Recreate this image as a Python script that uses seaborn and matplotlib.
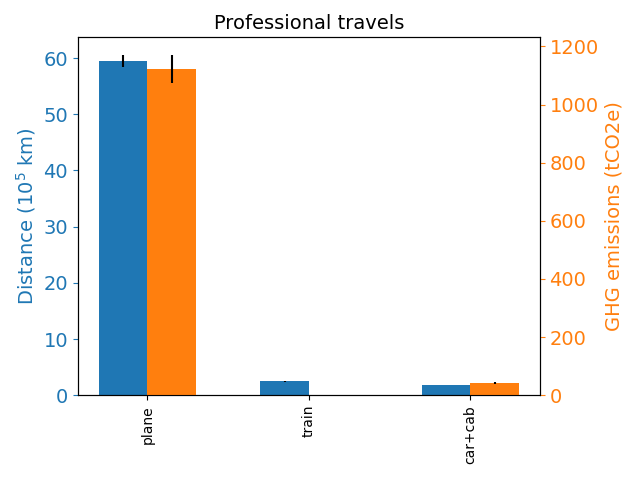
import matplotlib
matplotlib.use("Agg")
import matplotlib.pyplot as plt
import seaborn as sns
import pandas as pd
import numpy as np

# values
modes = ["plane", "train", "car+cab"]
distance = [59.5, 2.45, 1.8]        # 10^5 km
distance_err = [1.0, 0.05, 0.05]
emissions = [1122, 0.0, 41]         # tCO2e
emissions_err = [48, 0.0, 3]

blue, orange = sns.color_palette("tab10")[:2]

df = pd.DataFrame({
    "mode": modes * 2,
    "kind": ["dist"] * 3 + ["ghg"] * 3,
    "dist": distance + [np.nan] * 3,
    "ghg": [np.nan] * 3 + emissions,
})

fig, ax1 = plt.subplots(figsize=(6.38, 4.79), dpi=100)
ax2 = ax1.twinx()

pal = {"dist": blue, "ghg": orange}
sns.barplot(data=df, x="mode", y="dist", hue="kind", hue_order=["dist", "ghg"],
            palette=pal, width=0.6, gap=0, errorbar=None, legend=False,
            saturation=1, ax=ax1)
sns.barplot(data=df, x="mode", y="ghg", hue="kind", hue_order=["dist", "ghg"],
            palette=pal, width=0.6, gap=0, errorbar=None, legend=False,
            saturation=1, ax=ax2)

# error bars at the centre of each drawn bar
xs = np.arange(len(modes))
ax1.errorbar(xs - 0.15, distance, yerr=distance_err, fmt="none", ecolor="black", elinewidth=1.5)
ax2.errorbar(xs + 0.15, emissions, yerr=emissions_err, fmt="none", ecolor="black", elinewidth=1.5)

ax1.set_xlim(-0.43, 2.43)
ax1.set_ylim(0, 63.7)
ax2.set_ylim(0, 1231)
ax1.set_xlabel("")
ax1.set_ylabel("Distance (10$^5$ km)", color=blue, fontsize=14)
ax2.set_ylabel("GHG emissions (tCO2e)", color=orange, fontsize=14)
ax1.tick_params(axis="y", colors=blue, labelsize=14)
ax2.tick_params(axis="y", colors=orange, labelsize=14)
ax1.tick_params(axis="x", labelrotation=90, labelsize=10)
ax1.set_title("Professional travels", fontsize=14)

fig.subplots_adjust(left=0.122, right=0.846, top=0.922, bottom=0.175)
plt.savefig("out.png", dpi=100)
